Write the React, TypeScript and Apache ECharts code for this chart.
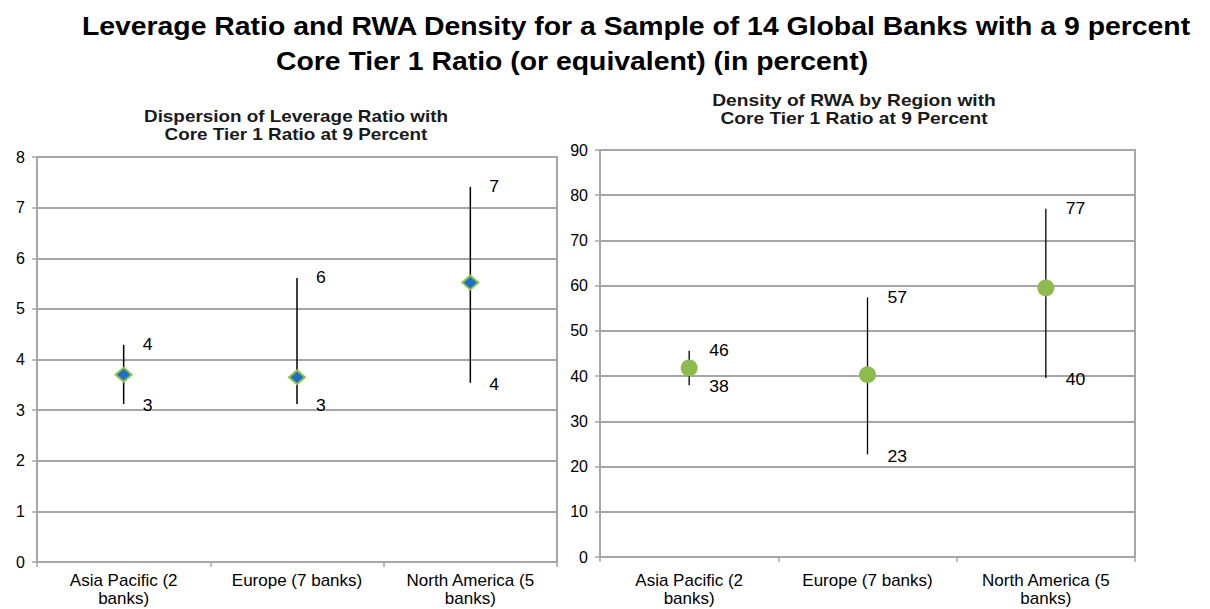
import React, { useEffect, useRef } from "react";
import * as echarts from "echarts";

const categories = ["Asia Pacific (2\nbanks)", "Europe (7 banks)", "North America (5\nbanks)"];

const levMean = [3.7, 3.65, 5.52];
const levLow = [3.12, 3.12, 3.54];
const levHigh = [4.29, 5.61, 7.41];

const rwaMean = [41.8, 40.3, 59.5];
const rwaLow = [38.0, 22.7, 39.6];
const rwaHigh = [45.6, 57.4, 77.0];

const levTicks = { min: 0, max: 8, interval: 1 };
const rwaTicks = { min: 0, max: 90, interval: 10 };

const FONT = "'Liberation Sans', Arial, sans-serif";

function rangeSeries(idx: number, low: number[], high: number[], dist: number, lw: number) {
  return {
    type: "custom",
    xAxisIndex: idx,
    yAxisIndex: idx,
    z: 2,
    data: low.map((l, i) => [i, l, high[i]]),
    renderItem: (params: any, api: any) => {
      const p1 = api.coord([api.value(0), api.value(1)]);
      const p2 = api.coord([api.value(0), api.value(2)]);
      return {
        type: "group",
        children: [
          {
            type: "line",
            shape: { x1: p1[0], y1: p1[1], x2: p2[0], y2: p2[1] },
            style: { stroke: "#000", lineWidth: lw },
          },
          {
            type: "text",
            x: p2[0] + dist,
            y: p2[1],
            scaleX: 1.1,
            style: {
              text: String(Math.round(api.value(2))),
              fill: "#000",
              font: `16px ${FONT}`,
              textAlign: "left",
              textVerticalAlign: "middle",
            },
          },
          {
            type: "text",
            x: p1[0] + dist,
            y: p1[1] + 2,
            scaleX: 1.1,
            style: {
              text: String(Math.round(api.value(1))),
              fill: "#000",
              font: `16px ${FONT}`,
              textAlign: "left",
              textVerticalAlign: "middle",
            },
          },
        ],
      };
    },
  };
}

export default function App() {
  const ref = useRef<HTMLDivElement>(null);
  useEffect(() => {
    if (!ref.current) return;
    const chart = echarts.init(ref.current, undefined, { renderer: "svg" });
    const axisLabelY = { color: "#000", fontSize: 16, fontFamily: FONT };
    const catLabel = { color: "#000", fontSize: 17, lineHeight: 18, fontFamily: FONT, interval: 0 };
    const gridBase = { show: true, borderColor: "#a6a6a6", borderWidth: 2, backgroundColor: "#fff" };
    const option: any = {
      animation: false,
      backgroundColor: "#fff",
      graphic: [
        {
          type: "text",
          x: 636,
          y: 27,
          scaleX: 1.135,
          style: {
            text: "Leverage Ratio and RWA Density for a Sample of 14 Global Banks with a 9 percent",
            font: `bold 25px ${FONT}`,
            fill: "#000",
            textAlign: "center",
            textVerticalAlign: "middle",
          },
        },
        {
          type: "text",
          x: 572,
          y: 62,
          scaleX: 1.135,
          style: {
            text: "Core Tier 1 Ratio (or equivalent) (in percent)",
            font: `bold 25px ${FONT}`,
            fill: "#000",
            textAlign: "center",
            textVerticalAlign: "middle",
          },
        },
        {
          type: "text",
          x: 296,
          y: 108,
          scaleX: 1.18,
          style: {
            text: "Dispersion of Leverage Ratio with\nCore Tier 1 Ratio at 9 Percent",
            font: `bold 16px ${FONT}`,
            lineHeight: 18,
            fill: "#1a1a1a",
            textAlign: "center",
            textVerticalAlign: "top",
          },
        },
        {
          type: "text",
          x: 854,
          y: 92,
          scaleX: 1.2,
          style: {
            text: "Density of RWA by Region with\nCore Tier 1 Ratio at 9 Percent",
            font: `bold 16px ${FONT}`,
            lineHeight: 18,
            fill: "#1a1a1a",
            textAlign: "center",
            textVerticalAlign: "top",
          },
        },
      ],
      grid: [
        { ...gridBase, left: 37, right: 1210 - 557, top: 157, bottom: 609 - 562 },
        { ...gridBase, left: 600, right: 1210 - 1135, top: 150, bottom: 609 - 557 },
      ],
      xAxis: [0, 1].map((i) => ({
        type: "category",
        gridIndex: i,
        data: categories,
        boundaryGap: true,
        axisLine: { lineStyle: { color: "#a6a6a6", width: 2 } },
        axisTick: { show: true, length: 5, lineStyle: { color: "#a6a6a6", width: 1.5 } },
        axisLabel: { ...catLabel, margin: i === 0 ? 9 : 14 },
        splitLine: { show: false },
      })),
      yAxis: [
        {
          type: "value",
          gridIndex: 0,
          ...levTicks,
          axisLine: { show: true, lineStyle: { color: "#a6a6a6", width: 2 } },
          axisTick: { show: true, length: 5, lineStyle: { color: "#a6a6a6", width: 1.5 } },
          axisLabel: { ...axisLabelY, margin: 12 },
          splitLine: { show: true, lineStyle: { color: "#a6a6a6", width: 2 } },
        },
        {
          type: "value",
          gridIndex: 1,
          ...rwaTicks,
          axisLine: { show: true, lineStyle: { color: "#a6a6a6", width: 2 } },
          axisTick: { show: true, length: 5, lineStyle: { color: "#a6a6a6", width: 1.5 } },
          axisLabel: { ...axisLabelY, margin: 12 },
          splitLine: { show: true, lineStyle: { color: "#a6a6a6", width: 2 } },
        },
      ],
      series: [
        rangeSeries(0, levLow, levHigh, 19, 1.5),
        rangeSeries(1, rwaLow, rwaHigh, 20, 1.3),
        {
          type: "scatter",
          xAxisIndex: 0,
          yAxisIndex: 0,
          z: 5,
          symbol: "diamond",
          symbolSize: [16, 14],
          itemStyle: { color: "#1f6fc8", borderColor: "#8cc34a", borderWidth: 2, opacity: 1 },
          data: levMean.map((v, i) => [i, v]),
        },
        {
          type: "scatter",
          xAxisIndex: 1,
          yAxisIndex: 1,
          z: 5,
          symbol: "circle",
          symbolSize: 17,
          itemStyle: { color: "#8dbb4e", opacity: 1 },
          data: rwaMean.map((v, i) => [i, v]),
        },
      ],
    };
    chart.setOption(option);
    return () => chart.dispose();
  }, []);
  return <div ref={ref} style={{ width: 1210, height: 609, position: "absolute", left: 0, top: 0 }} />;
}
